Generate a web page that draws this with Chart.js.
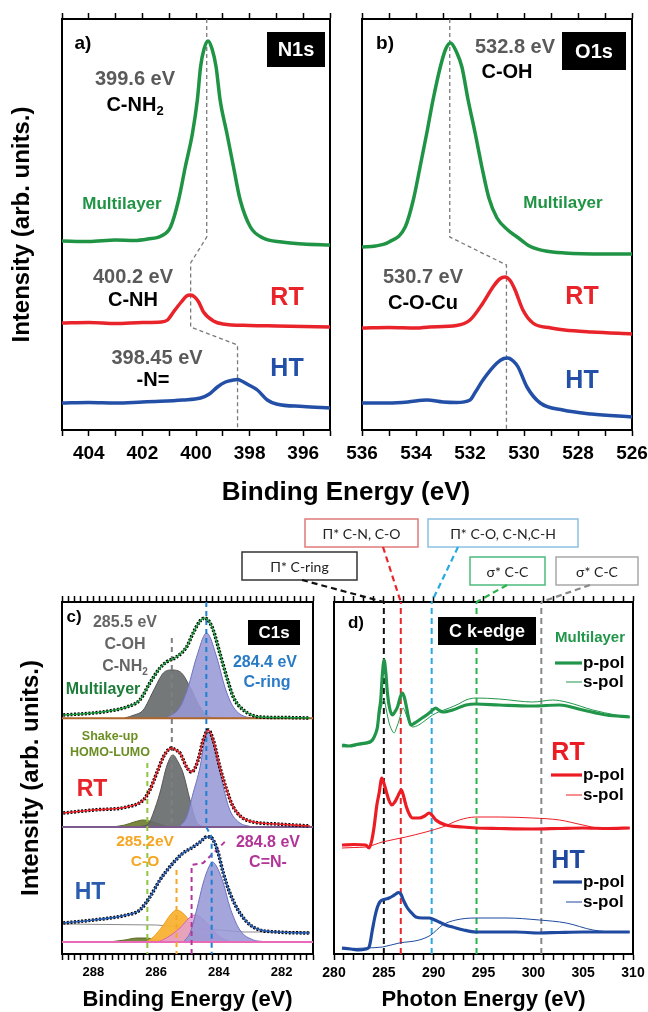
<!DOCTYPE html>
<html>
<head>
<meta charset="utf-8">
<title>XPS / NEXAFS panels</title>
<script src="https://cdn.jsdelivr.net/npm/chart.js@4.4.0/dist/chart.umd.min.js"></script>
<style>
  html, body { margin: 0; padding: 0; background: #fff; }
  #page { position: relative; width: 648px; height: 1012px; }
  #page canvas { position: absolute; left: 0; top: 0; }
</style>
</head>
<body>
<div id="page">
  <canvas id="chartA" width="648" height="1012"></canvas>
  <canvas id="chartB" width="648" height="1012"></canvas>
  <canvas id="chartC" width="648" height="1012"></canvas>
  <canvas id="chartD" width="648" height="1012"></canvas>
</div>
<script>
// ---- data: [energy (eV), intensity (arb.)] ----

// a) N1s
const n1sMulti = [[405,189],[404,188.5],[403,190],[402.3,189.5],[401.8,191],[401.3,194],[400.95,203],[400.65,230],[400.4,263],[400.13,297],[399.95,330],[399.83,363],[399.7,381],[399.55,389],[399.4,381],[399.25,363],[399.1,330],[398.85,297],[398.6,263],[398.35,230],[397.97,203],[397.5,192],[396.8,188],[396,186],[395,185]];
const n1sRT = [[405,107],[404,107.5],[403,106.5],[402,107.5],[401.3,108],[401.06,110],[400.84,118],[400.55,128],[400.35,134],[400.2,135],[400.05,133],[399.9,128],[399.72,118],[399.35,109],[399,106],[398,104.5],[397,104],[396,103.5],[395,103]];
const n1sHT = [[405,27],[404,27.5],[403,27],[402,28],[401.5,28.5],[400.5,30],[399.83,32],[399.5,36],[399.2,43],[398.9,48],[398.6,50],[398.45,50.5],[398.3,49],[398.1,46],[397.71,40],[397.34,30],[397,26],[396,23.5],[395,22]];
const n1sGuide = [[399.6,411],[399.6,193],[400.2,167],[400.2,103],[398.45,85],[398.45,0]];

// b) O1s
const o1sMulti = [[536,183],[535.5,184],[535,188],[534.4,203],[534.1,230],[533.85,263],[533.6,297],[533.37,330],[533.1,363],[532.9,381],[532.72,387],[532.5,378],[532.3,363],[532.07,330],[531.81,297],[531.56,263],[531.3,232],[531,212],[530.6,200],[530.2,192],[529.8,184],[529.2,179],[528.5,177],[527,176],[526,176]];
const o1sRT = [[536,102],[535,102.5],[534,102],[533.5,103],[532.5,104.5],[532,110],[531.52,127],[531.15,143],[530.9,151],[530.7,153],[530.5,149],[530.33,140],[530.04,120],[529.67,107],[529,102],[528.5,100],[527.5,98],[526,96]];
const o1sHT = [[536,27],[535,27],[534.3,28],[533.6,30],[533,28],[532.5,27.5],[532,30],[531.8,38],[531.52,50],[531,67],[530.75,71.5],[530.6,72],[530.4,69],[530.22,63],[529.89,43],[529.4,27],[528.56,20],[527.5,16],[526,13]];
const o1sGuide = [[532.75,411],[532.75,193],[530.65,165],[530.65,0]];

// c) C1s  (measured envelope + fitted components)
const c1sMulti = [[288.96,240],[288,242],[287.5,244],[286.94,248],[286.52,255],[286.2,272],[285.88,287],[285.67,293],[285.35,298],[285.03,308],[284.82,322],[284.6,334],[284.45,337],[284.3,333],[284.18,325],[283.97,302],[283.75,278],[283.54,258],[283.22,245],[282.69,238],[282,237.5],[281.1,237]];
const c1sMultiOH = [[287,237],[286.7,240],[286.41,245],[286.09,264],[285.77,282],[285.5,285],[285.19,282],[284.92,268],[284.6,248],[284.29,238],[284,237]];
const c1sMultiRing = [[285.67,237],[285.24,248],[284.98,268],[284.71,298],[284.39,322],[284.07,298],[283.81,268],[283.54,248],[283.12,238],[282.8,237]];
const c1sMultiBase = 236.7;

const c1sRT = [[288.96,142],[288,145],[286.94,148],[286.41,155],[286.2,165],[285.98,182],[285.77,198],[285.62,205],[285.51,207],[285.38,205],[285.24,202],[285.03,188],[284.87,183],[284.66,195],[284.5,215],[284.34,225],[284.18,215],[283.97,188],[283.75,165],[283.54,148],[283.12,135],[282.16,131],[281.1,129]];
const c1sRTOH = [[286.5,128.5],[286.25,131],[286.09,142],[285.88,162],[285.65,190],[285.46,200],[285.3,193],[285.14,182],[284.92,155],[284.71,133],[284.5,128.5]];
const c1sRTRing = [[285.25,128.5],[285.03,138],[284.82,162],[284.6,188],[284.45,215],[284.34,223],[284.2,215],[284.07,198],[283.86,168],[283.65,145],[283.33,132],[283,128.5]];
const c1sRTShake = [[287.4,128],[287,130],[286.7,133],[286.41,135],[286.1,133],[285.8,130],[285.6,128]];
const c1sRTBase = 128;

const c1sHT = [[288.96,32],[288,35],[286.94,40],[286.52,45],[286.2,58],[285.88,75],[285.46,92],[285.14,102],[284.82,108],[284.6,113],[284.39,118],[284.3,118],[284.18,115],[284.02,102],[283.86,82],[283.65,62],[283.33,42],[282.91,28],[282.16,23],[281.1,22]];
const c1sHTBackground = [[288.96,31],[286,30],[283.2,23],[281.1,23]];
const c1sHTCO = [[286.3,13.5],[286.09,18],[285.77,30],[285.55,40],[285.35,45],[285.15,42],[285.03,38],[284.82,25],[284.6,17],[284.4,13.5]];
const c1sHTCN = [[285.9,13.5],[285.67,17],[285.24,27],[284.95,37],[284.76,40],[284.55,37],[284.39,32],[283.97,18],[283.7,14],[283.4,13]];
const c1sHTRing = [[285.1,14],[284.92,22],[284.71,45],[284.5,72],[284.32,88],[284.21,93],[284.08,89],[283.86,72],[283.65,48],[283.33,25],[282.9,15],[282.6,13.5]];
const c1sHTShake = [[287.5,13],[287,15],[286.6,17],[286.3,17],[286,15],[285.7,13.5]];
const c1sHTBase = 13;

const c1sGuideOH = [[285.5,317],[285.5,128]];
const c1sGuideRing = [[284.4,353],[284.4,128],[284.23,118],[284.23,1]];
const c1sGuideShake = [[286.28,192],[286.28,1]];
const c1sGuideCO = [[285.35,85],[285.35,1]];
const c1sGuideCN = [[284.87,1],[284.87,90],[284.5,92],[283.75,115]];

// d) C K-edge NEXAFS
const nexMultiP = [[280.8,210],[281.5,209],[282.5,211],[283.18,212],[283.85,215],[284.2,222],[284.36,228],[284.55,245],[284.69,255],[284.85,280],[285.03,295],[285.2,282],[285.36,262],[285.6,246],[285.86,240],[286.1,243],[286.37,248],[286.65,258],[286.87,262],[287.05,258],[287.27,248],[287.5,236],[287.71,230],[288.1,232],[288.55,235],[289,238],[289.55,242],[289.9,245],[290.22,247],[290.5,245],[290.89,243],[291.9,245],[293.24,250],[294.24,251],[296.59,250],[299.94,249],[302.63,250],[304.97,245],[307.32,240],[309.67,238]];
const nexMultiS = [[280.8,208],[282,209],[283.18,211],[283.85,213],[284.2,222],[284.53,238],[284.8,250],[285.03,255],[285.25,245],[285.53,232],[285.8,225],[286.03,222],[286.3,228],[286.54,235],[286.94,247],[287.15,243],[287.37,237],[287.88,228],[288.5,230],[289.22,235],[289.89,240],[290.5,243],[291.56,247],[292.5,251],[293.24,255],[294.24,257],[296.59,256],[299.94,253],[301.96,255],[303.3,253],[305.98,245],[308.3,240],[309.67,238]];
const nexRTP = [[280.8,110],[282,110.5],[283.18,110],[283.52,107],[283.8,115],[284.02,128],[284.3,150],[284.53,162],[284.8,177],[285,172],[285.2,165],[285.5,155],[285.8,150],[286.1,153],[286.37,158],[286.77,165],[287,158],[287.27,148],[287.6,140],[287.88,137],[288.55,137],[289.1,139],[289.55,142],[289.9,139],[290.22,135],[291.22,130],[292.9,128],[294.24,127],[296.5,126.5],[299.94,126],[302.5,126.5],[304.97,127],[307.5,126.5],[309.67,127]];
const nexRTS = [[280.8,107],[282,107.5],[283.18,108],[284.86,113],[287.2,118],[289.22,123],[290.89,128],[292.57,135],[294.24,138],[296.59,138],[299.94,137],[302.63,135],[304.97,130],[306.65,127],[309.67,127]];
const nexHTP = [[280.8,7],[281.7,6],[282.51,5],[283.2,6],[283.52,8],[283.85,25],[284.1,38],[284.36,48],[284.6,53],[284.86,55],[285.2,56],[285.53,57],[285.9,59],[286.2,61],[286.45,62.5],[286.7,61],[287,54],[287.37,47],[287.8,42],[288.21,38],[288.9,37],[289.55,37],[290,35.5],[290.56,33],[291.2,30],[291.9,28],[293,25],[294.24,23],[296,23],[298.27,23],[300.6,22],[302.5,22.5],[304.97,23],[307.3,23],[309.67,23]];
const nexHTS = [[280.8,6],[282,6.5],[283.18,7],[284.86,8],[286.54,12],[288.55,15],[289.72,20],[290.3,25],[290.89,30],[292.23,35],[294.24,37],[297.26,37],[300.6,35],[303.3,32],[305.98,25],[308.3,23],[309.67,23]];
const nexResonances = [285.0, 286.7, 289.8, 294.3, 300.8];
const nexResonanceNames = ['Π* C-ring', 'Π* C-N, C-O', 'Π* C-O, C-N,C-H', 'σ* C-C', 'σ* C-C'];

// ---- styles ----
const FONT = '"Liberation Sans", Arial, Helvetica, sans-serif';
const BOXFONT = 'Lato, "Noto Sans", "DejaVu Sans", sans-serif';
const GREEN = '#1f9444';
const RED = '#e8232a';
const BLUE = '#2350a6';
const GRAYTXT = '#5a5a5a';
const resColors = ['#111111', '#e8262a', '#27aae1', '#2bb34b', '#888888'];
const resBoxStroke = ['#333333', '#e07a7a', '#8cc0e4', '#4cbb7c', '#a8a8a8'];
// label boxes above panel d: [x1, y1, x2, y2] and the point where the connector leaves the box
const resBoxes = [[242,552,357,580],[305,519,418,547],[428,519,578,547],[470,557,545,585],[556,557,638,585]];
const resAnchors = [[302,580],[383,547],[458,547],[507,585],[590,585]];

Chart.defaults.font.family = FONT;
Chart.defaults.color = '#000';

const pts = arr => arr.map(([x, y]) => ({ x, y }));

function curve(data, color, width, extra) {
  return Object.assign({
    data: pts(data), borderColor: color, borderWidth: width, pointRadius: 0,
    fill: false, cubicInterpolationMode: 'monotone', xAxisID: 'x', yAxisID: 'y', order: 1
  }, extra || {});
}

function guide(data, color, width, dash, order) {
  return {
    data: pts(data), borderColor: color, borderWidth: width, borderDash: dash,
    pointRadius: 0, fill: false, tension: 0, xAxisID: 'x', yAxisID: 'y', order: order || 3
  };
}

function peak(data, line, area, base, order) {
  return curve(data, line, 1, { backgroundColor: area, fill: { value: base }, order: order });
}

function scalesFor(p) {
  const isMajor = v => Math.abs(v / p.major - Math.round(v / p.major)) < 1e-6;
  const xCommon = {
    type: 'linear', min: p.min, max: p.max, reverse: !!p.reverse,
    grid: { drawOnChartArea: false, tickLength: 6, tickWidth: 1.5, tickColor: '#000' },
    border: { color: '#000', width: 2 }
  };
  const yCommon = {
    type: 'linear', min: p.ymin, max: p.ymax,
    ticks: { display: false }, grid: { display: false },
    border: { color: '#000', width: 2 }
  };
  return {
    x: Object.assign({}, xCommon, {
      position: 'bottom',
      afterFit: s => { s.height = p.xHeight; s.paddingLeft = 0; s.paddingRight = 0; },
      ticks: {
        stepSize: p.minor, autoSkip: false, maxRotation: 0, padding: p.tickPad, color: '#000',
        font: { size: p.tickSize, weight: 'bold' },
        callback: v => (isMajor(v) ? Math.round(v) : '')
      },
      title: p.xTitle
        ? { display: true, text: p.xTitle, color: '#000', padding: 0, font: { size: 22, weight: 'bold', lineHeight: 1.1 } }
        : { display: false }
    }),
    xTop: Object.assign({}, xCommon, {
      position: 'top',
      afterFit: s => { s.height = 6; },
      ticks: { stepSize: p.minor, autoSkip: false, display: false }
    }),
    y: Object.assign({}, yCommon, {
      position: 'left',
      afterFit: s => { s.width = p.yWidth; },
      title: p.yTitle
        ? { display: true, text: p.yTitle, color: '#000', padding: { top: p.yTitlePad, bottom: 0 }, font: { size: 24, weight: 'bold' } }
        : { display: false }
    }),
    yRight: Object.assign({}, yCommon, {
      position: 'right',
      afterFit: s => { s.width = 0; }
    })
  };
}

function options(padding, scales) {
  return {
    responsive: false,
    animation: false,
    events: [],
    layout: { padding },
    plugins: { legend: { display: false }, tooltip: { enabled: false } },
    scales
  };
}

// ---- text helpers ----
function text(ctx, str, x, y, size, color, align, weight, family) {
  ctx.font = (weight || 'bold') + ' ' + size + 'px ' + (family || FONT);
  ctx.fillStyle = color;
  ctx.textAlign = align || 'center';
  ctx.textBaseline = 'middle';
  ctx.fillText(str, x, y);
}

function textSub(ctx, str, sub, x, y, size, color) {
  ctx.font = 'bold ' + size + 'px ' + FONT;
  const w1 = ctx.measureText(str).width;
  ctx.font = 'bold ' + Math.round(size * 0.65) + 'px ' + FONT;
  const w2 = ctx.measureText(sub).width;
  const x0 = x - (w1 + w2) / 2;
  text(ctx, str, x0, y, size, color, 'left');
  text(ctx, sub, x0 + w1, y + size * 0.32, Math.round(size * 0.65), color, 'left');
}

function tag(ctx, str, box, size) {
  const [x1, y1, x2, y2] = box;
  ctx.fillStyle = '#000';
  ctx.fillRect(x1, y1, x2 - x1, y2 - y1);
  text(ctx, str, (x1 + x2) / 2, (y1 + y2) / 2 + 1, size, '#fff');
}

function decor(draw) {
  return {
    id: 'decor',
    afterDraw(chart) {
      const ctx = chart.ctx;
      ctx.save();
      draw(ctx, chart);
      ctx.restore();
    }
  };
}

// ---- a) N1s ----
new Chart(document.getElementById('chartA'), {
  type: 'line',
  data: {
    datasets: [
      curve(n1sMulti, GREEN, 3.5),
      curve(n1sRT, RED, 3.5),
      curve(n1sHT, BLUE, 3.5),
      guide(n1sGuide, '#7a7a7a', 1.3, [4, 3])
    ]
  },
  options: options({ left: 0, right: 318, top: 13, bottom: 542 }, scalesFor({
    min: 395, max: 405, reverse: true, minor: 1, major: 2, tickSize: 19, tickPad: 6, xHeight: 40,
    ymin: 0, ymax: 411, yWidth: 62, yTitle: 'Intensity (arb. units.)', yTitlePad: 8
  })),
  plugins: [decor(ctx => {
    text(ctx, 'a)', 83, 44, 19, '#000');
    tag(ctx, 'N1s', [267, 32, 325, 67], 20);
    text(ctx, '399.6 eV', 135, 79, 20, GRAYTXT);
    textSub(ctx, 'C-NH', '2', 135, 105, 20, '#000');
    text(ctx, 'Multilayer', 122, 204, 17, GREEN);
    text(ctx, '400.2 eV', 133, 277, 20, GRAYTXT);
    text(ctx, 'C-NH', 133, 300, 20, '#000');
    text(ctx, 'RT', 287, 298, 25, RED);
    text(ctx, '398.45 eV', 157, 358, 20, GRAYTXT);
    text(ctx, '-N=', 153, 380, 20, '#000');
    text(ctx, 'HT', 287, 369, 25, BLUE);
    text(ctx, 'Binding Energy (eV)', 346, 493, 26, '#000');
  })]
});

// ---- b) O1s ----
new Chart(document.getElementById('chartB'), {
  type: 'line',
  data: {
    datasets: [
      curve(o1sMulti, GREEN, 3.5),
      curve(o1sRT, RED, 3.5),
      curve(o1sHT, BLUE, 3.5),
      guide(o1sGuide, '#7a7a7a', 1.3, [4, 3])
    ]
  },
  options: options({ left: 362, right: 16, top: 13, bottom: 542 }, scalesFor({
    min: 526, max: 536, reverse: true, minor: 1, major: 2, tickSize: 19, tickPad: 6, xHeight: 40,
    ymin: 0, ymax: 411, yWidth: 0
  })),
  plugins: [decor(ctx => {
    text(ctx, 'b)', 385, 44, 19, '#000');
    tag(ctx, 'O1s', [562, 32, 626, 70], 20);
    text(ctx, '532.8 eV', 515, 47, 20, GRAYTXT);
    text(ctx, 'C-OH', 507, 72, 20, '#000');
    text(ctx, 'Multilayer', 563, 203, 17, GREEN);
    text(ctx, '530.7 eV', 423, 277, 20, GRAYTXT);
    text(ctx, 'C-O-Cu', 423, 303, 20, '#000');
    text(ctx, 'RT', 582, 297, 25, RED);
    text(ctx, 'HT', 582, 381, 25, BLUE);
  })]
});

// ---- c) C1s ----
const dots = { borderDash: [2, 1.6], order: 2 };
new Chart(document.getElementById('chartC'), {
  type: 'line',
  data: {
    datasets: [
      curve(c1sMulti, '#1d9a3f', 1.5),
      curve(c1sRT, RED, 1.6),
      curve(c1sHT, '#2a5db0', 1.6),
      curve(c1sMulti, '#000', 3.5, dots),
      curve(c1sRT, '#000', 3.5, dots),
      curve(c1sHT, '#000', 3.5, dots),
      guide(c1sGuideOH, '#808080', 2, [5, 4], 3),
      guide(c1sGuideRing, '#1f7fd1', 2, [5, 4], 3),
      guide(c1sGuideShake, '#8dc63f', 2, [5, 4], 3),
      guide(c1sGuideCO, '#f5a623', 2, [5, 4], 3),
      guide(c1sGuideCN, '#b23597', 2, [5, 4], 3),
      guide([[289, c1sMultiBase], [281, c1sMultiBase]], '#b0652a', 2, [], 4),
      guide([[289, c1sRTBase], [281, c1sRTBase]], '#7d5a8e', 2, [], 4),
      guide([[289, c1sHTBase], [281, c1sHTBase]], '#e86ab8', 2, [], 4),
      curve(c1sHTBackground, '#8a8a8a', 1, { order: 8, tension: 0, cubicInterpolationMode: 'default' }),
      peak(c1sMultiRing, '#6f72c0', 'rgba(150,153,214,0.88)', c1sMultiBase, 5),
      peak(c1sMultiOH, '#555555', 'rgba(105,108,108,0.92)', c1sMultiBase, 6),
      peak(c1sRTRing, '#6f72c0', 'rgba(150,153,214,0.88)', c1sRTBase, 5),
      peak(c1sRTOH, '#555555', 'rgba(105,108,108,0.92)', c1sRTBase, 6),
      peak(c1sRTShake, '#5a6b22', 'rgba(107,122,42,0.9)', c1sRTBase, 6),
      peak(c1sHTRing, '#6f72c0', 'rgba(150,153,214,0.88)', c1sHTBase, 5),
      peak(c1sHTCN, '#e060b0', 'rgba(229,160,210,0.85)', c1sHTBase, 6),
      peak(c1sHTCO, '#f0a020', 'rgba(248,178,52,0.95)', c1sHTBase, 7),
      peak(c1sHTShake, '#5a6b22', 'rgba(107,122,42,0.9)', c1sHTBase, 7)
    ]
  },
  options: options({ left: 0, right: 335, top: 596, bottom: 0 }, scalesFor({
    min: 281, max: 289, reverse: true, minor: 0.2, major: 2, tickSize: 13, tickPad: 5, xHeight: 58,
    xTitle: 'Binding Energy (eV)',
    ymin: 1, ymax: 353, yWidth: 62, yTitle: 'Intensity (arb. units.)', yTitlePad: 17
  })),
  plugins: [decor(ctx => {
    text(ctx, 'c)', 74, 617, 17, '#000');
    text(ctx, '285.5 eV', 125, 623, 16, '#666');
    text(ctx, 'C-OH', 125, 645, 16, '#666');
    textSub(ctx, 'C-NH', '2', 125, 667, 16, '#666');
    text(ctx, 'Multilayer', 103, 690, 16, '#1e7d3a');
    tag(ctx, 'C1s', [248, 620, 300, 645], 17);
    text(ctx, '284.4 eV', 265, 663, 16, '#2a7bc6');
    text(ctx, 'C-ring', 267, 683, 16, '#2a7bc6');
    text(ctx, 'Shake-up', 110, 737, 12.5, '#6b8e23');
    text(ctx, 'HOMO-LUMO', 110, 753, 12.5, '#6b8e23');
    text(ctx, 'RT', 92, 790, 23, RED);
    text(ctx, '285.2eV', 145, 842, 15.5, '#f5a623');
    text(ctx, 'C-O', 145, 862, 15.5, '#f5a623');
    text(ctx, '284.8 eV', 268, 843, 16, '#b23597');
    text(ctx, 'C=N-', 268, 863, 16, '#b23597');
    text(ctx, 'HT', 90, 893, 23, '#2a5db0');
  })]
});

// ---- d) C K-edge ----
const nexGuides = nexResonances.map((e, i) => guide([[e, 1], [e, 353]], resColors[i], 2, [6, 4], 3));
new Chart(document.getElementById('chartD'), {
  type: 'line',
  data: {
    datasets: [
      curve(nexMultiP, '#21964a', 3.2),
      curve(nexMultiS, '#21964a', 1),
      curve(nexRTP, '#ec1c24', 3.2),
      curve(nexRTS, '#ec1c24', 1),
      curve(nexHTP, '#1f4aa0', 3.2),
      curve(nexHTS, '#1f4aa0', 1)
    ].concat(nexGuides)
  },
  options: options({ left: 334, right: 15, top: 596, bottom: 0 }, scalesFor({
    min: 280, max: 310, minor: 1, major: 5, tickSize: 14, tickPad: 5, xHeight: 58,
    xTitle: 'Photon Energy (eV)',
    ymin: 1, ymax: 353, yWidth: 0
  })),
  plugins: [decor((ctx, chart) => {
    const xs = chart.scales.x;
    const top = chart.chartArea.top;
    // resonance label boxes and connectors
    nexResonances.forEach((e, i) => {
      const [x1, y1, x2, y2] = resBoxes[i];
      ctx.fillStyle = '#fff';
      ctx.fillRect(x1, y1, x2 - x1, y2 - y1);
      ctx.lineWidth = 1.5;
      ctx.strokeStyle = resBoxStroke[i];
      ctx.strokeRect(x1, y1, x2 - x1, y2 - y1);
      text(ctx, nexResonanceNames[i], (x1 + x2) / 2, (y1 + y2) / 2 + 1, 14, '#222', 'center', 'normal', BOXFONT);
      ctx.beginPath();
      ctx.setLineDash([6, 4]);
      ctx.lineWidth = 2.2;
      ctx.strokeStyle = resColors[i];
      ctx.moveTo(resAnchors[i][0], resAnchors[i][1]);
      ctx.lineTo(xs.getPixelForValue(e), top);
      ctx.stroke();
      ctx.setLineDash([]);
    });
    text(ctx, 'd)', 356, 623, 17, '#000');
    tag(ctx, 'C k-edge', [438, 617, 536, 645], 18);
    // legends
    const groups = [
      { name: 'Multilayer', color: '#21964a', size: 15, y: 638, p: 663, s: 682, pStart: 555 },
      { name: 'RT', color: '#ec1c24', size: 25, y: 753, p: 775, s: 795, pStart: 551 },
      { name: 'HT', color: '#1f4aa0', size: 25, y: 861, p: 882, s: 902, pStart: 553 }
    ];
    groups.forEach(g => {
      text(ctx, g.name, g.name === 'Multilayer' ? 590 : 568, g.y, g.size, g.color);
      ctx.strokeStyle = g.color;
      ctx.lineWidth = 3.2;
      ctx.beginPath(); ctx.moveTo(g.pStart, g.p); ctx.lineTo(582, g.p); ctx.stroke();
      ctx.lineWidth = 1;
      ctx.beginPath(); ctx.moveTo(566, g.s); ctx.lineTo(582, g.s); ctx.stroke();
      text(ctx, 'p-pol', 583, g.p, 17, '#000', 'left');
      text(ctx, 's-pol', 583, g.s, 17, '#000', 'left');
    });
  })]
});
</script>
</body>
</html>
